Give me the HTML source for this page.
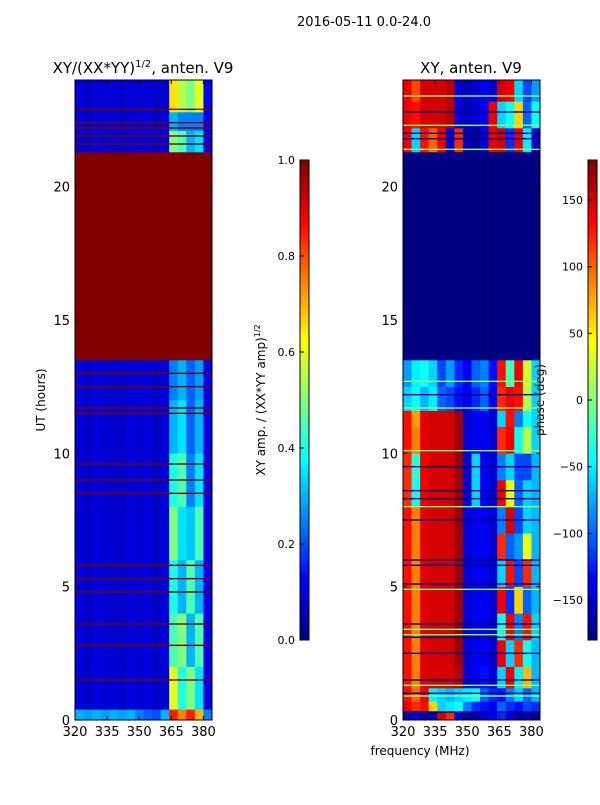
<!DOCTYPE html>
<html><head><meta charset="utf-8">
<style>
html,body{margin:0;padding:0;background:#fff;}
body{width:600px;height:800px;overflow:hidden;font-family:"Liberation Sans","DejaVu Sans",sans-serif;}
svg text{font-family:"DejaVu Sans","Liberation Sans",sans-serif;}
</style></head>
<body>
<svg id="fig" width="600" height="800" viewBox="0 0 600 800" xmlns="http://www.w3.org/2000/svg">
<text x="364" y="26" font-size="13" text-anchor="middle">2016-05-11 0.0-24.0</text>
<text x="143" y="73" font-size="15" text-anchor="middle">XY/(XX*YY)<tspan font-size="10" dy="-6">1/2</tspan><tspan dy="6">, anten. V9</tspan></text>
<text x="471" y="73" font-size="15" text-anchor="middle">XY, anten. V9</text>
<g id="left"></g>
<g id="right"></g>
<g id="cb1"></g>
<g id="cb2"></g>
<text transform="translate(45,400) rotate(-90)" font-size="12" text-anchor="middle">UT (hours)</text>
<text x="420" y="755" font-size="12" text-anchor="middle">frequency (MHz)</text>
<text transform="translate(265,400) rotate(-90)" font-size="12" text-anchor="middle">XY amp. / (XX*YY amp)<tspan font-size="8" dy="-5">1/2</tspan></text>
<text transform="translate(544,400) rotate(-90)" font-size="12" text-anchor="middle">phase (deg)</text>
</svg>
<script>
// ---- data ----
const freqEdges = [320,324,328,332,336,340,344,348,352,356,360,364,368,372,376,380,384];
const xTicks = [320,335,350,365,380];
const yTicks = [0,5,10,15,20];
const ampTicks = [0.0,0.2,0.4,0.6,0.8,1.0];
const phaseTicks = [-150,-100,-50,0,50,100,150];

const ampT0 = [0,0.4,2,4,6,8,10,12,13.5,21.3,22.1,22.8];
const ampT1 = [0.4,2,4,6,8,10,12,13.5,21.3,22.1,22.8,24];
const ampVals = [
 [0.3,0.28,0.3,0.28,0.3,0.28,0.3,0.25,0.22,0.2,0.3,0.85,0.75,0.85,0.7,0.25],
 [0.09,0.07,0.09,0.08,0.09,0.07,0.09,0.08,0.09,0.07,0.09,0.6,0.4,0.5,0.35,0.1],
 [0.09,0.07,0.09,0.08,0.08,0.07,0.09,0.08,0.09,0.07,0.09,0.45,0.5,0.3,0.45,0.1],
 [0.09,0.07,0.09,0.08,0.08,0.07,0.09,0.08,0.09,0.07,0.09,0.4,0.3,0.45,0.3,0.1],
 [0.08,0.07,0.09,0.08,0.08,0.07,0.09,0.08,0.09,0.07,0.09,0.5,0.35,0.32,0.45,0.1],
 [0.09,0.07,0.09,0.08,0.08,0.07,0.09,0.08,0.09,0.07,0.09,0.4,0.45,0.25,0.35,0.1],
 [0.09,0.07,0.09,0.08,0.08,0.07,0.09,0.08,0.09,0.07,0.09,0.3,0.35,0.22,0.3,0.1],
 [0.09,0.07,0.09,0.08,0.08,0.07,0.09,0.08,0.09,0.07,0.09,0.25,0.3,0.22,0.28,0.1],
 [1,1,1,1,1,1,1,1,1,1,1,1,1,1,1,1],
 [0.08,0.07,0.09,0.08,0.08,0.07,0.09,0.08,0.09,0.07,0.09,0.5,0.45,0.3,0.35,0.1],
 [0.09,0.07,0.09,0.08,0.09,0.07,0.09,0.08,0.09,0.07,0.09,0.3,0.25,0.25,0.25,0.1],
 [0.09,0.07,0.09,0.08,0.09,0.07,0.09,0.08,0.09,0.07,0.09,0.65,0.55,0.5,0.6,0.12]
];
const ampFlags = [1.5,2.8,3.6,4.8,5.3,5.8,8.5,9.0,9.6,11.5,11.7,12.5,13.0,21.6,21.9,22.2,22.4,22.9];

const phT0 = [0,0.3,0.7,1.2,2,3,4,5,6,7,8,9,10,11,11.6,12.5,13.5,21.3,22.2,23.2];
const phT1 = [0.3,0.7,1.2,2,3,4,5,6,7,8,9,10,11,11.6,12.5,13.5,21.3,22.2,23.2,24];
const phVals = [
 [-160,-150,-170,-160,150,120,-150,-160,-170,-150,-140,-120,-150,-170,-160,-170],
 [140,120,130,60,-60,-50,-40,-90,-120,-130,-140,-100,-120,-130,-110,-120],
 [130,100,140,-50,-60,-70,-60,-50,-40,-100,-120,-130,-90,-60,-100,-70],
 [130,90,145,150,150,150,160,-150,-140,-130,-150,-60,140,-50,70,-70],
 [130,90,145,150,150,150,170,-150,-140,-140,-150,140,-60,120,-40,-70],
 [130,90,145,150,150,150,170,-150,-140,-140,-150,-40,140,-90,130,-60],
 [130,90,145,150,150,150,170,-150,-140,-140,-150,140,-120,60,-100,-70],
 [130,90,145,150,150,150,170,-150,-140,-140,-150,-60,130,-110,120,-70],
 [130,90,145,150,150,150,170,-150,-140,-140,-150,120,-100,-80,40,-70],
 [130,90,145,150,150,150,170,-150,-140,-140,-150,-90,150,-110,-60,-70],
 [120,-40,140,150,150,150,170,-150,-60,-140,-150,140,40,-100,-60,-70],
 [120,-30,140,150,150,150,170,-150,-60,-140,-150,-90,-60,-110,-110,-70],
 [130,90,145,150,150,150,170,-150,-140,-140,-150,120,140,-40,20,-60],
 [130,80,145,150,150,150,170,-150,-140,-140,-150,-60,130,-90,-40,-60],
 [-60,-40,-70,-50,-100,-110,-130,-140,-120,-100,-140,120,140,130,20,-60],
 [-80,-50,-40,-60,-110,-80,-120,-140,-100,-90,-130,130,-20,140,30,-60],
 [-180,-180,-180,-180,-180,-180,-180,-180,-180,-180,-180,-180,-180,-180,-180,-180],
 [140,-60,130,100,140,-150,120,-160,-170,-150,140,150,-120,140,-50,-150],
 [140,130,150,150,150,160,-150,-160,-150,-140,140,-60,-40,60,-100,-40],
 [140,110,150,150,150,160,-150,-160,-150,-140,-150,150,140,-60,-110,-80]
];
const phDarkFlags = [0.3,1.0,1.5,2.5,3.1,3.6,5.1,5.8,6.0,7.5,8.3,8.6,9.5,12.2,21.8,22.0,22.8];
const phGreenFlags = [0.9,1.3,3.2,3.4,4.9,8.0,10.1,11.7,12.7,21.4,22.3,23.4];

// ---- helpers ----
const NS = "http://www.w3.org/2000/svg";
function jet(v){
  v=Math.max(0,Math.min(1,v));
  const c=x=>Math.round(255*Math.max(0,Math.min(1,x)));
  const r=1.5-Math.abs(4*v-3), g=1.5-Math.abs(4*v-2), b=1.5-Math.abs(4*v-1);
  return "rgb("+c(r)+","+c(g)+","+c(b)+")";
}
function mk(parent,tag,attrs){const e=document.createElementNS(NS,tag);for(const k in attrs)e.setAttribute(k,attrs[k]);parent.appendChild(e);return e;}
const plotTop=80, plotBot=720;
function yScale(h){return plotBot-(h/24)*(plotBot-plotTop);}
function makeX(x0){return f=>x0+(f-320)/(384-320)*137;}

function drawPanel(g, x0, t0s, t1s, vals, norm, flagsA, colA, flagsB, colB){
  const xs=makeX(x0);
  for(let r=0;r<vals.length;r++){
    for(let c=0;c<freqEdges.length-1;c++){
      const xa=xs(freqEdges[c]), xb=xs(freqEdges[c+1]);
      const ya=yScale(t1s[r]), yb=yScale(t0s[r]);
      const e=mk(g,"rect",{x:xa,y:ya,width:xb-xa+0.3,height:yb-ya+0.3,fill:jet(norm(vals[r][c]))});
      
      
    }
  }
  const lines=(fl,col)=>fl.forEach(h=>{
    const e=mk(g,"rect",{x:x0,y:yScale(h)-0.7,width:137,height:1.4,fill:col});
    
    
  });
  lines(flagsA,colA); if(flagsB) lines(flagsB,colB);
  mk(g,"rect",{x:x0,y:plotTop,width:137,height:plotBot-plotTop,fill:"none",stroke:"#000","stroke-width":1});
  xTicks.forEach(f=>{
    const x=xs(f);
    mk(g,"line",{x1:x,x2:x,y1:plotBot,y2:plotBot-4,stroke:"#000"});
    mk(g,"line",{x1:x,x2:x,y1:plotTop,y2:plotTop+4,stroke:"#000"});
    const t=mk(g,"text",{x:x,y:plotBot+16,"font-size":13,"text-anchor":"middle"});t.textContent=f;
    
    
  });
  yTicks.forEach(h=>{
    const y=yScale(h);
    mk(g,"line",{x1:x0,x2:x0+4,y1:y,y2:y,stroke:"#000"});
    mk(g,"line",{x1:x0+137,x2:x0+133,y1:y,y2:y,stroke:"#000"});
    const t=mk(g,"text",{x:x0-5,y:y+5,"font-size":13,"text-anchor":"end"});t.textContent=h;
    
    
  });
}
drawPanel(document.getElementById("left"),75,ampT0,ampT1,ampVals,v=>v,ampFlags,"#800000");
drawPanel(document.getElementById("right"),403,phT0,phT1,phVals,v=>(v+180)/360,phDarkFlags,"#00007f",phGreenFlags,"#90ff70");

function drawCB(g,x0,ticks,lo,hi,fmt){
  const top=160,bot=640,n=120;
  for(let i=0;i<n;i++){
    const y=bot-(i+1)*(bot-top)/n;
    mk(g,"rect",{x:x0,y:y,width:9,height:(bot-top)/n+0.5,fill:jet((i+0.5)/n)});
  }
  mk(g,"rect",{x:x0,y:top,width:9,height:bot-top,fill:"none",stroke:"#000","stroke-width":1});
  ticks.forEach(v=>{
    const y=bot-(v-lo)/(hi-lo)*(bot-top);
    mk(g,"line",{x1:x0,x2:x0+4,y1:y,y2:y,stroke:"#000"});
    const t=mk(g,"text",{x:x0-5,y:y+4,"font-size":11,"text-anchor":"end"});t.textContent=fmt(v);
    
    
  });
}
drawCB(document.getElementById("cb1"),300,ampTicks,0,1,v=>v.toFixed(1));
drawCB(document.getElementById("cb2"),588,phaseTicks,-180,180,v=>v<0?"\u2212"+Math.abs(v):String(v));
</script>
</body></html>
